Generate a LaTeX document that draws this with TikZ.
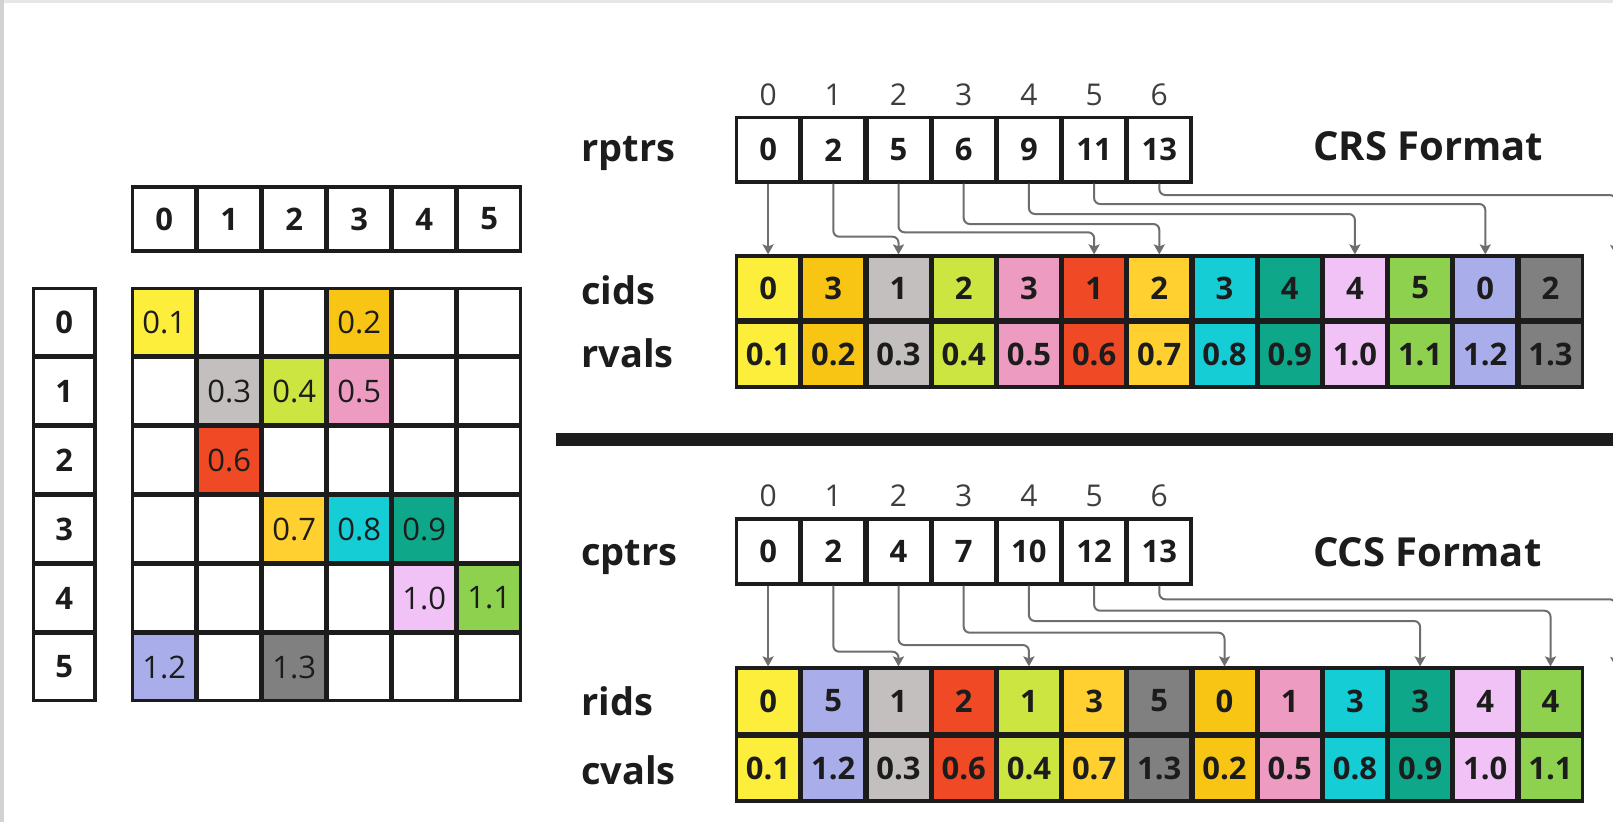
\documentclass[tikz,border=0pt]{standalone}
\usepackage{fontspec}
\setmainfont{Open Sans}
\usetikzlibrary{arrows.meta}

% value colours, in the order of the stored entries 0.1 ... 1.3
\definecolor{val01}{HTML}{FDEE3C}
\definecolor{val02}{HTML}{F8C515}
\definecolor{val03}{HTML}{C4BFBF}
\definecolor{val04}{HTML}{CDE541}
\definecolor{val05}{HTML}{EE9BC2}
\definecolor{val06}{HTML}{EF4A25}
\definecolor{val07}{HTML}{FFD02F}
\definecolor{val08}{HTML}{15CDD5}
\definecolor{val09}{HTML}{0FA789}
\definecolor{val10}{HTML}{F1C2F5}
\definecolor{val11}{HTML}{8ED14F}
\definecolor{val12}{HTML}{A9AEEA}
\definecolor{val13}{HTML}{808080}
\definecolor{ink}{HTML}{1C1C1C}
\definecolor{wire}{HTML}{6E6E6E}
\definecolor{frametop}{HTML}{E6E6E6}
\definecolor{frameleft}{HTML}{D2D2D2}

\newcommand\cellnum{\fontsize{31pt}{33pt}\selectfont\bfseries}
\newcommand\cellval{\fontsize{31pt}{33pt}\selectfont}
\newcommand\idxfont{\fontsize{30pt}{32pt}\selectfont}
\newcommand\tagfont{\fontsize{38pt}{40pt}\selectfont\bfseries}
\newcommand\headfont{\fontsize{40pt}{42pt}\selectfont\bfseries}

\begin{document}
\begin{tikzpicture}[x=1pt,y=-1pt,
  every node/.style={text=ink},
  acell/.style={draw=ink, line width=3.2pt, fill=white, inner sep=0pt,
    minimum width=63.2pt, minimum height=#1, font=\cellnum},
  mcell/.style={draw=ink, line width=3.2pt, fill=white, inner sep=0pt,
    minimum width=63pt, minimum height=67pt, font=\cellval},
  hcell/.style={mcell, font=\cellnum, minimum height=#1},
  idxlabel/.style={anchor=base, font=\idxfont, text=ink!85, inner sep=0pt},
  arrtag/.style={anchor=base west, font=\tagfont, inner sep=0pt},
  fmttitle/.style={anchor=base west, font=\headfont, inner sep=0pt},
  pointer/.style={draw=wire, line width=2pt, rounded corners=6pt,
    -{Stealth[length=10pt,width=11pt,inset=2pt]}}
]
\useasboundingbox (0,0) rectangle (1613,822);
\clip (0,0) rectangle (1613,822);
\fill[white] (0,0) rectangle (1613,822);
\fill[frametop] (0,0) rectangle (1613,3);
\fill[frameleft] (0,0) rectangle (4,822);

% ---------------- dense matrix ----------------
\foreach \c in {0,...,5}
  \node[hcell=64pt] (h\c) at ({164.2+65*\c},219) {\c};
\foreach \r in {0,...,5}
  \node[hcell=67pt, minimum width=61.5pt] (rl\r) at (64.2,{322+69*\r}) {\r};
\foreach \r in {0,...,5}
  \foreach \c in {0,...,5}
    \node[mcell] (m\r\c) at ({164.2+65*\c},{322+69*\r}) {};
\foreach \r/\c/\v/\k in {0/0/0.1/01, 0/3/0.2/02, 1/1/0.3/03, 1/2/0.4/04,
    1/3/0.5/05, 2/1/0.6/06, 3/2/0.7/07, 3/3/0.8/08, 3/4/0.9/09,
    4/4/1.0/10, 4/5/1.1/11, 5/0/1.2/12, 5/2/1.3/13}
  \node[mcell, fill=val\k] (e\k) at (m\r\c) {\v};

% ---------------- CRS format ----------------
\node[arrtag] (trptrs) at (581,161) {rptrs};
\node[arrtag] (tcids) at (581,304) {cids};
\node[arrtag] (trvals) at (581,367) {rvals};
\node[fmttitle] (tcrs) at (1313,160) {CRS Format};

\foreach \p [count=\i from 0] in {0,2,5,6,9,11,13} {
  \node[idxlabel] (rpi\i) at ({768.1+65.2*\i},105) {\i};
  \node[acell=64.5pt] (rp\i) at ({768.1+65.2*\i},149.8) {\p};
}
\foreach \d/\v/\k [count=\i from 0] in {0/0.1/01, 3/0.2/02, 1/0.3/03,
    2/0.4/04, 3/0.5/05, 1/0.6/06, 2/0.7/07, 3/0.8/08, 4/0.9/09,
    4/1.0/10, 5/1.1/11, 0/1.2/12, 2/1.3/13} {
  \node[acell=64pt, fill=val\k] (ci\i) at ({768.1+65.2*\i},288) {\d};
  \node[acell=65pt, fill=val\k] (rv\i) at ({768.1+65.2*\i},354.5) {\v};
}
\coordinate (ci13) at (1615.7,255);

\draw[pointer] (rp0.south) -- (ci0.north);
\foreach \s/\t/\y in {1/2/236.7, 2/5/232.3, 3/6/224, 4/9/214, 5/11/204}
  \draw[pointer] (rp\s.south) -- (rp\s.south |- 0,\y) -- (ci\t.north |- 0,\y) -- (ci\t.north);
\draw[pointer] (rp6.south) -- (rp6.south |- 0,195) -- (ci13 |- 0,195) -- (ci13);

% separator
\fill[ink] (555.7,432.5) rectangle (1613,445.7);

% ---------------- CCS format ----------------
\node[arrtag] (tcptrs) at (581,565) {cptrs};
\node[arrtag] (trids) at (581,715) {rids};
\node[arrtag] (tcvals) at (581,784) {cvals};
\node[fmttitle] (tccs) at (1313,566) {CCS Format};

\foreach \p [count=\i from 0] in {0,2,4,7,10,12,13} {
  \node[idxlabel] (cpi\i) at ({768.1+65.2*\i},506.7) {\i};
  \node[acell=65pt] (cp\i) at ({768.1+65.2*\i},551.5) {\p};
}
\foreach \d/\v/\k [count=\i from 0] in {0/0.1/01, 5/1.2/12, 1/0.3/03,
    2/0.6/06, 1/0.4/04, 3/0.7/07, 5/1.3/13, 0/0.2/02, 1/0.5/05,
    3/0.8/08, 3/0.9/09, 4/1.0/10, 4/1.1/11} {
  \node[acell=66pt, fill=val\k] (ri\i) at ({768.1+65.2*\i},701) {\d};
  \node[acell=65pt, fill=val\k] (cv\i) at ({768.1+65.2*\i},768.5) {\v};
}
\coordinate (ri13) at (1615.7,667);

\draw[pointer] (cp0.south) -- (ri0.north);
\foreach \s/\t/\y in {1/2/651.7, 2/4/645, 3/7/632.7, 4/10/621, 5/12/610.7}
  \draw[pointer] (cp\s.south) -- (cp\s.south |- 0,\y) -- (ri\t.north |- 0,\y) -- (ri\t.north);
\draw[pointer] (cp6.south) -- (cp6.south |- 0,599.3) -- (ri13 |- 0,599.3) -- (ri13);
\end{tikzpicture}
\end{document}
